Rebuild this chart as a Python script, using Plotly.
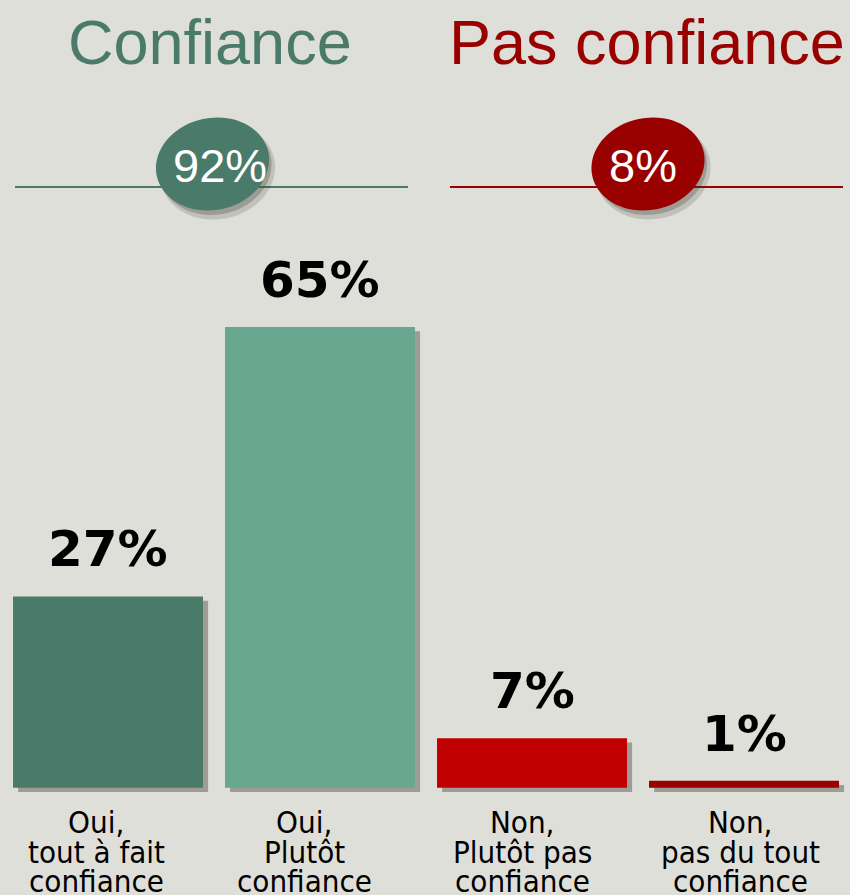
import math
import plotly.graph_objects as go

categories = ["Oui,<br>tout à fait<br>confiance", "Oui,<br>Plutôt<br>confiance",
              "Non,<br>Plutôt pas<br>confiance", "Non,<br>pas du tout<br>confiance"]
values = [27, 65, 7, 1]
value_labels = ["27%", "65%", "7%", "1%"]
bar_colors = ["#4a7a6a", "#6aa790", "#c00000", "#990000"]
group_titles = ["Confiance", "Pas confiance"]
group_totals = ["92%", "8%"]
group_colors = ["#4a7a6a", "#990000"]

W, H = 850, 895
ML, MR, MT, MB = 2, 0, 79, 93
PW, PH = W - ML - MR, H - MT - MB

def px(x):
    return (x - ML) / PW

def py(y):
    return (H - MB - y) / PH

def ellipse_path(cx, cy, a, b, theta_deg, n=72):
    th = math.radians(theta_deg)
    pts = []
    for i in range(n):
        t = 2 * math.pi * i / n
        x = cx + a * math.cos(t) * math.cos(th) - b * math.sin(t) * math.sin(th)
        y = cy + a * math.cos(t) * math.sin(th) + b * math.sin(t) * math.cos(th)
        pts.append(f"{px(x):.5f},{py(y):.5f}")
    return "M" + " L".join(pts) + " Z"

xs = list(range(len(categories)))
bw = 0.896
label_xshift = [-12, -16, -10, -4]

fig = go.Figure()
# shadows
fig.add_trace(go.Bar(x=xs, y=values, base=[-0.6] * len(values), width=bw,
                     offset=-bw / 2 + 0.024,
                     marker=dict(color="rgba(80,75,65,0.45)", line=dict(width=0)),
                     hoverinfo="skip", showlegend=False))
fig.add_trace(go.Bar(x=xs, y=values, width=bw, offset=-bw / 2,
                     marker=dict(color=bar_colors, line=dict(width=0)),
                     hoverinfo="skip", showlegend=False))

annotations = []
for i, (v, lab) in enumerate(zip(values, value_labels)):
    annotations.append(dict(x=i, y=v, xref="x", yref="y", text=lab, showarrow=False,
                            xanchor="center", yanchor="bottom", yshift=16,
                            font=dict(family="DejaVu Sans", size=50, color="#000000", weight="bold")))
for i, cat in enumerate(categories):
    for j, line in enumerate(cat.split("<br>")):
        annotations.append(dict(x=i, y=py(822 + j * 29.5), xref="x", yref="paper", text=line,
                                showarrow=False, xanchor="center", yanchor="middle",
                                xshift=label_xshift[i],
                                font=dict(family="DejaVu Sans Condensed, Liberation Sans Narrow", size=31, color="#000000")))

title_x = [210, 647]
circle_c = [(212.5, 164), (648, 164)]
total_x = [220, 643]
line_x = [(15, 408), (450, 843)]
shapes = []
for k in range(2):
    annotations.append(dict(x=px(title_x[k]), y=py(42), xref="paper", yref="paper",
                            text=group_titles[k], showarrow=False, xanchor="center", yanchor="middle",
                            font=dict(family="Liberation Sans, Arial", size=63, color=group_colors[k])))
    shapes.append(dict(type="line", xref="paper", yref="paper",
                       x0=px(line_x[k][0]), x1=px(line_x[k][1]), y0=py(187), y1=py(187),
                       line=dict(color=group_colors[k], width=2)))
    cx, cy = circle_c[k]
    shapes.append(dict(type="path", xref="paper", yref="paper",
                       path=ellipse_path(cx + 5, cy + 7, 58, 48, -12),
                       fillcolor="rgba(60,60,50,0.18)", line=dict(width=0)))
    shapes.append(dict(type="path", xref="paper", yref="paper",
                       path=ellipse_path(cx + 3, cy + 4, 56.5, 46.5, -12),
                       fillcolor="rgba(60,60,50,0.28)", line=dict(width=0)))
    shapes.append(dict(type="path", xref="paper", yref="paper",
                       path=ellipse_path(cx, cy, 57, 46, -12),
                       fillcolor=group_colors[k], line=dict(width=0)))
    annotations.append(dict(x=px(total_x[k]), y=py(165), xref="paper", yref="paper",
                            text=group_totals[k], showarrow=False, xanchor="center", yanchor="middle",
                            font=dict(family="Liberation Sans, Arial", size=47, color="#ffffff")))

fig.update_layout(
    width=W, height=H,
    margin=dict(l=ML, r=MR, t=MT, b=MB),
    paper_bgcolor="#dfdfd9", plot_bgcolor="#dfdfd9",
    barmode="overlay",
    xaxis=dict(range=[-0.5, 3.5], showticklabels=False, showgrid=False, zeroline=False,
               showline=False, ticks=""),
    yaxis=dict(range=[-2, 100], visible=False, showgrid=False, zeroline=False),
    annotations=annotations, shapes=shapes,
    showlegend=False,
)

fig.write_html("out.html", config={"displayModeBar": False},
               post_script="document.body.style.margin='0';document.body.style.padding='0';"
                           "document.body.style.overflow='hidden';"
                           "document.body.style.background='#dfdfd9';")
